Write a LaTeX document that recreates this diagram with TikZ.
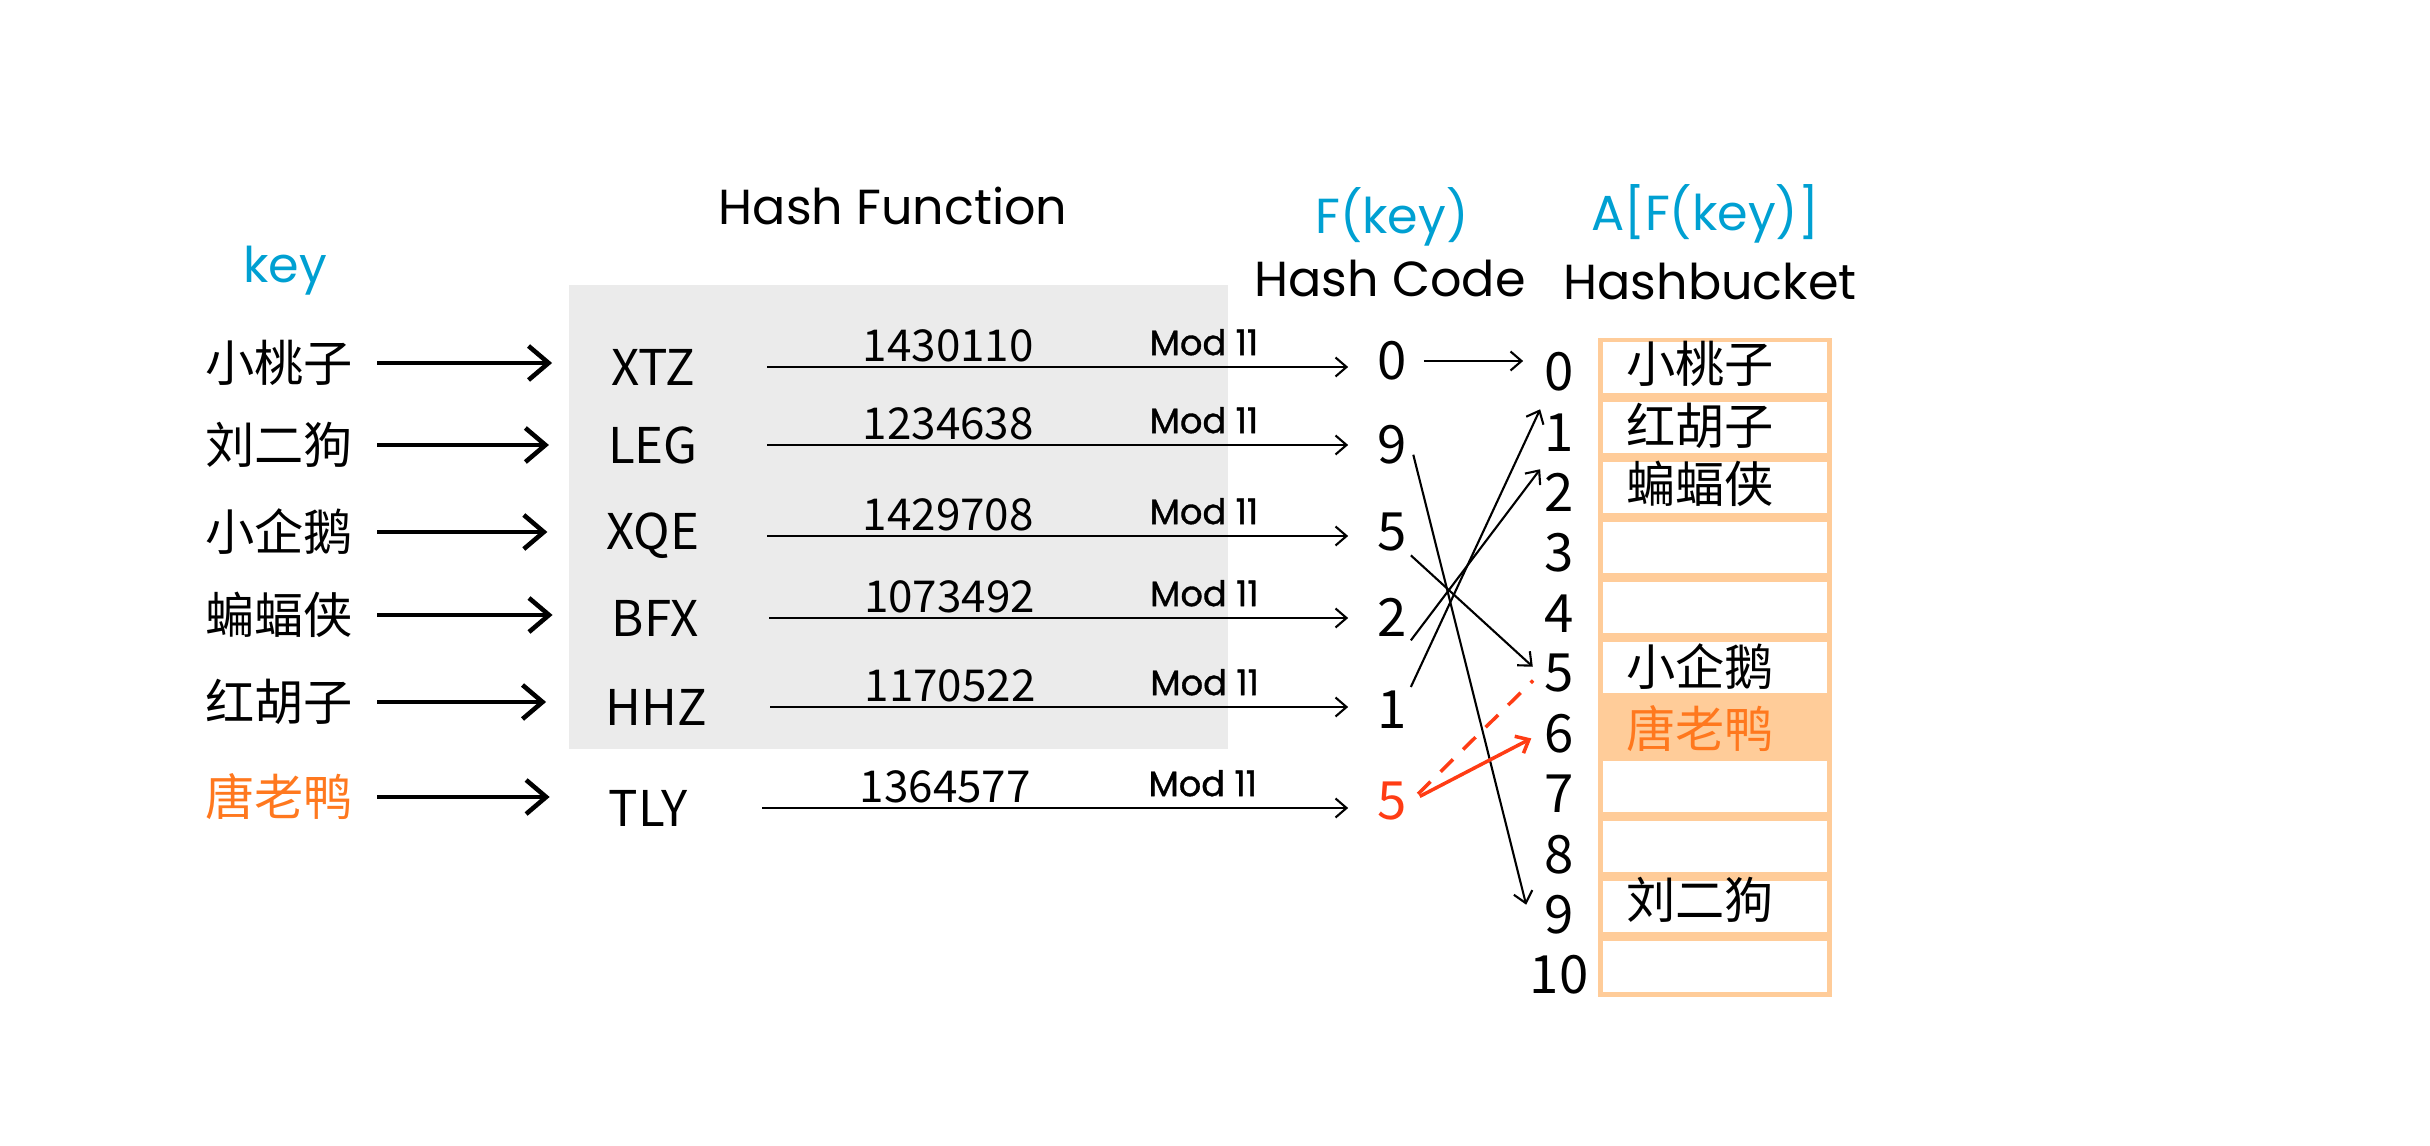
\documentclass[tikz,border=0pt]{standalone}
\usepackage{fontspec}
\setmainfont{Poppins}
\newfontfamily\cjk{Noto Sans CJK SC}
\newfontfamily\modfont[FakeBold=1]{Poppins}
\usepackage{xcolor}
\usepackage{tikz}
\usetikzlibrary{arrows.meta}

\definecolor{keyblue}{RGB}{0,160,210}
\definecolor{duckorange}{RGB}{255,120,30}
\definecolor{codered}{RGB}{255,60,20}
\definecolor{bucketpeach}{RGB}{255,204,153}
\definecolor{fngray}{RGB}{235,235,235}

\begin{document}
\begin{tikzpicture}[x=0.01cm, y=-0.01cm,
  head/.style={font=\fontsize{14}{16}\selectfont},
  bhead/.style={head, text=keyblue},
  person/.style={font=\cjk\fontsize{14}{16}\selectfont, inner sep=1pt},
  keycode/.style={font=\cjk\fontsize{14}{16}\selectfont, inner sep=1pt},
  num/.style={font=\cjk\fontsize{12.5}{14}\selectfont, inner sep=1pt},
  mod/.style={font=\modfont\fontsize{10}{12}\selectfont, inner sep=3pt},
  digit/.style={font=\cjk\fontsize{15}{17}\selectfont, inner sep=1pt},
  keyarr/.style={-{Straight Barb[length=2mm,width=3.4mm]}, line width=1.3pt, shorten <=0.2cm, shorten >=0.55cm},
  fnarr/.style={-{Straight Barb[length=1.1mm,width=1.9mm]}, line width=.6pt}]
\useasboundingbox (0,0) rectangle (2430,1146);
\fill[fngray] (569,285) rectangle (1228,749);

% headers
\node[head] (hfn) at (893,206) {Hash Function};
\node[bhead] (hkey) at (285,271) {key};
\node[bhead] (hf) at (1392,217) {F(key)};
\node[head] (hcode) at (1390,279) {Hash Code};
\node[bhead] (ha) at (1705,214) {A[F(key)]};
\node[head] (hbucket) at (1710,282) {Hashbucket};

% keys
\node[person] (k1) at (279,363) {小桃子};
\node[person] (k2) at (279,445) {刘二狗};
\node[person] (k3) at (279,532) {小企鹅};
\node[person] (k4) at (279,615) {蝙蝠侠};
\node[person] (k5) at (279,702) {红胡子};
\node[person, text=duckorange] (k6) at (279,797) {唐老鸭};

% codes
\node[keycode] (c1) at (653,367) {XTZ};
\node[keycode] (c2) at (653,445) {LEG};
\node[keycode] (c3) at (653,536) {XQE};
\node[keycode] (c4) at (655,618) {BFX};
\node[keycode] (c5) at (656,707) {HHZ};
\node[keycode] (c6) at (648,808) {TLY};

% hash codes
\node[digit] (h1) at (1392,361) {0};
\node[digit] (h2) at (1392,445) {9};
\node[digit] (h3) at (1392,532) {5};
\node[digit] (h4) at (1392,617) {2};
\node[digit] (h5) at (1392,710) {1};
\node[digit, text=codered] (h6) at (1392,801) {5};

\draw[keyarr] (k1.east) -- (k1.east -| c1.west);
\draw[keyarr] (k2.east) -- (k2.east -| c2.west);
\draw[keyarr] (k3.east) -- (k3.east -| c3.west);
\draw[keyarr] (k4.east) -- (k4.east -| c4.west);
\draw[keyarr] (k5.east) -- (k5.east -| c5.west);
\draw[keyarr] (k6.east) -- (k6.east -| c6.west);

\draw[fnarr, shorten <=1.14cm, shorten >=0.25cm] (c1.center) -- node[num, pos=.41, above]{1430110} node[mod, pos=.765, above]{Mod 11} (c1.center -| h1.west);
\draw[fnarr, shorten <=1.14cm, shorten >=0.25cm] (c2.center) -- node[num, pos=.41, above]{1234638} node[mod, pos=.765, above]{Mod 11} (c2.center -| h2.west);
\draw[fnarr, shorten <=1.14cm, shorten >=0.25cm] (c3.center) -- node[num, pos=.41, above]{1429708} node[mod, pos=.765, above]{Mod 11} (c3.center -| h3.west);
\draw[fnarr, shorten <=1.14cm, shorten >=0.25cm] (c4.center) -- node[num, pos=.41, above]{1073492} node[mod, pos=.765, above]{Mod 11} (c4.center -| h4.west);
\draw[fnarr, shorten <=1.14cm, shorten >=0.25cm] (c5.center) -- node[num, pos=.41, above]{1170522} node[mod, pos=.765, above]{Mod 11} (c5.center -| h5.west);
\draw[fnarr, shorten <=1.14cm, shorten >=0.25cm] (c6.center) -- node[num, pos=.41, above]{1364577} node[mod, pos=.765, above]{Mod 11} (c6.center -| h6.west);

% bucket
\fill[bucketpeach] (1598,338) rectangle (1832,997);
\foreach \i in {0,...,10} {
  \ifnum\i=6 \else
    \fill[white] (1603,{338+59.9*\i+4}) rectangle (1827,{338+59.9*\i+55});
  \fi
  \node[digit] (i\i) at (1559,{372+60.3*\i}) {\i};
}
\node[person] (b0) at (1700,364) {小桃子};
\node[person] (b1) at (1700,426) {红胡子};
\node[person] (b2) at (1700,484) {蝙蝠侠};
\node[person] (b5) at (1700,667) {小企鹅};
\node[person, text=duckorange] (b6) at (1700,729) {唐老鸭};
\node[person] (b9) at (1700,900) {刘二狗};

% hash code -> bucket index
\draw[fnarr, shorten <=0.13cm, shorten >=0.17cm] (h1.east) -- (h1.east -| i0.west);
\draw[fnarr, shorten <=0.1cm] (h2.east) -- ([xshift=-0.14cm, yshift=0.1cm]i9.west);
\draw[fnarr, shorten >=0.1cm] (h3.south east) -- (i5.west);
\draw[fnarr] (h4.south east) -- (i2.north west);
\draw[fnarr] (h5.north east) -- (i1.north west);
\draw[fnarr, codered, line width=1pt, shorten <=0.1cm, shorten >=0.1cm] (h6.east) -- (i6.west);
\draw[codered, line width=1pt, dash pattern=on 5pt off 4pt, shorten <=0.1cm, shorten >=0.1cm] (h6.east) -- (i5.west);
\end{tikzpicture}
\end{document}
